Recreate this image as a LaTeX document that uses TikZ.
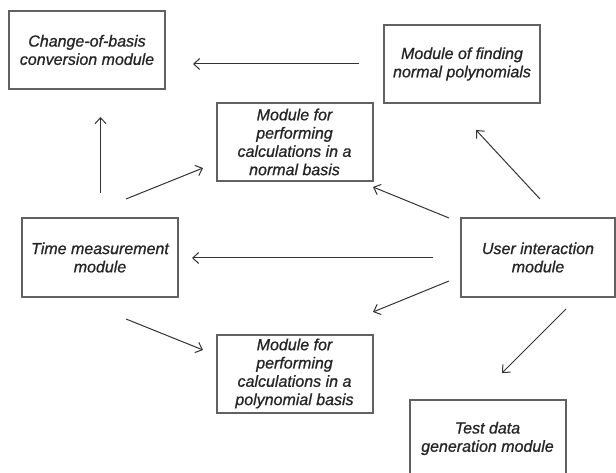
\documentclass[tikz,border=0pt]{standalone}
\usepackage{fontspec}
\setmainfont{Liberation Sans}
\newfontface\boxfont{Liberation Sans Italic}[FakeBold=0.9]
\usetikzlibrary{arrows.meta}
\tikzset{
  modbox/.style={draw=black!62, line width=2pt, rectangle, minimum width=156pt, minimum height=78pt,
    align=center, inner sep=0pt, font=\boxfont\fontsize{16}{18.3}\selectfont, text=black!85},
  conn/.style={draw=black!80, line width=1pt, -{Straight Barb[length=6pt,width=11pt,line width=1pt]}}
}
\begin{document}
\begin{tikzpicture}[x=1pt,y=-1pt]
\useasboundingbox (0,0) rectangle (616,473);
\node[modbox] (chg) at (87,50) {Change-of-basis\\conversion module};
\node[modbox] (nfp) at (462,64) {Module of finding\\normal polynomials};
\node[modbox] (nb) at (294.5,142) {Module for\\performing\\calculations in a\\normal basis};
\node[modbox] (tm) at (100,257.5) {Time measurement\\module};
\node[modbox, minimum width=154pt] (ui) at (538,257.5) {User interaction\\module};
\node[modbox] (pb) at (294.5,373.5) {Module for\\performing\\calculations in a\\polynomial basis};
\node[modbox] (td) at (487.5,438.5) {Test data\\generation module};
% arrow end points
\coordinate (a1s) at (359,64);   \coordinate (a1e) at (193,64);
\coordinate (a2s) at (100.5,193); \coordinate (a2e) at (100.5,117);
\coordinate (a3s) at (126,199);  \coordinate (a3e) at (203,168);
\coordinate (a4s) at (449,218);  \coordinate (a4e) at (373,187);
\coordinate (a5s) at (540,199);  \coordinate (a5e) at (476,130);
\coordinate (a6s) at (433,258);  \coordinate (a6e) at (192,258);
\coordinate (a7s) at (449,281);  \coordinate (a7e) at (373,312);
\coordinate (a8s) at (126,319);  \coordinate (a8e) at (203,350);
\coordinate (a9s) at (566,309);  \coordinate (a9e) at (502,373);
\draw[conn] (a1s) -- (a1e);
\draw[conn] (a2s) -- (a2e);
\draw[conn] (a3s) -- (a3e);
\draw[conn] (a4s) -- (a4e);
\draw[conn] (a5s) -- (a5e);
\draw[conn] (a6s) -- (a6e);
\draw[conn] (a7s) -- (a7e);
\draw[conn] (a8s) -- (a8e);
\draw[conn] (a9s) -- (a9e);
\end{tikzpicture}
\end{document}
